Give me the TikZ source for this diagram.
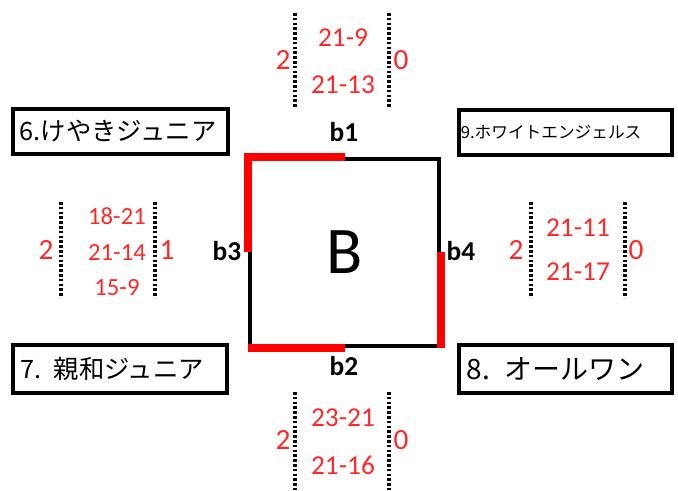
\documentclass[tikz,border=0pt]{standalone}
\usepackage{fontspec}
\setmainfont{Carlito}
\newfontfamily\jpfont{Noto Sans CJK JP}
\usetikzlibrary{positioning}
\definecolor{scorered}{RGB}{255,40,40}

\begin{document}
\begin{tikzpicture}[x=0.75pt, y=-0.75pt,
    team/.style={draw, line width=3pt, minimum height=33.75pt, inner xsep=5pt,
                 text width=#1, align=left, font=\jpfont\fontsize{19}{22}\selectfont},
    score/.style={text=scorered, inner sep=0pt, font=\fontsize{20.5}{24}\selectfont},
    games/.style={text=scorered, inner sep=0pt, font=\fontsize{22}{26}\selectfont},
    court/.style={draw, line width=3pt, minimum width=141.75pt,
                  minimum height=140.25pt, font=\fontsize{50}{56}\selectfont},
    won/.style={red, line width=5.5pt},
    side/.style={inner sep=0pt, font=\bfseries\fontsize{20.5}{24}\selectfont},
    sep/.style={line width=3pt, dash pattern=on 2pt off 1.6pt}
]
\useasboundingbox (0,0) rectangle (678,491);

% court B
\node[court] (court) at (344.5,252.5) {B};
\draw[won] (court.west) -- (court.north west) -- (court.north);
\draw[won] (court.south west) -- (court.south);
\draw[won] (court.east) -- (court.south east);
\node[side] (b1) at (344,132) {b1};
\node[side] (b2) at (344,366) {b2};
\node[side] (b3) at (227,251) {b3};
\node[side] (b4) at (461,251) {b4};

% teams
\node[team=151pt] (team6) at (120.5,131.5) {6.けやきジュニア};
\node[team=157pt, inner xsep=1.5pt, font=\jpfont\fontsize{12.5}{15}\selectfont]
    (team9) at (565.5,132.5) {9.ホワイトエンジェルス};
\node[team=150pt, minimum height=36pt] (team7) at (120,369) {7. 親和ジュニア};
\node[team=148pt, inner xsep=6pt, minimum height=36pt,
      font=\jpfont\fontsize{21}{24}\selectfont] (team8) at (565.5,369) {8. オールワン};

% b1 result
\draw[sep] (295,13) -- (295,107);
\draw[sep] (389,13) -- (389,107);
\node[games] (b1l) at (283,60) {2};
\node[games] (b1r) at (401,60) {0};
\node[score] (b1s1) at (343,38) {21-9};
\node[score] (b1s2) at (343,85) {21-13};

% b3 result
\draw[sep] (61,202) -- (61,298);
\draw[sep] (155,202) -- (155,298);
\node[games] (b3l) at (46,250) {2};
\node[games] (b3r) at (167,250) {1};
\node[score, font=\fontsize{18.5}{22}\selectfont] (b3s1) at (117,216) {18-21};
\node[score, font=\fontsize{18.5}{22}\selectfont] (b3s2) at (117,252) {21-14};
\node[score, font=\fontsize{18.5}{22}\selectfont] (b3s3) at (117,288) {15-9};

% b4 result
\draw[sep] (531,202) -- (531,298);
\draw[sep] (625,202) -- (625,298);
\node[games] (b4l) at (516,250) {2};
\node[games] (b4r) at (636,250) {0};
\node[score] (b4s1) at (578,228) {21-11};
\node[score] (b4s2) at (578,272) {21-17};

% b2 result
\draw[sep] (295,392) -- (295,490);
\draw[sep] (389,392) -- (389,490);
\node[games] (b2l) at (283,440) {2};
\node[games] (b2r) at (401,440) {0};
\node[score] (b2s1) at (343,418) {23-21};
\node[score] (b2s2) at (343,465) {21-16};
\end{tikzpicture}
\end{document}
